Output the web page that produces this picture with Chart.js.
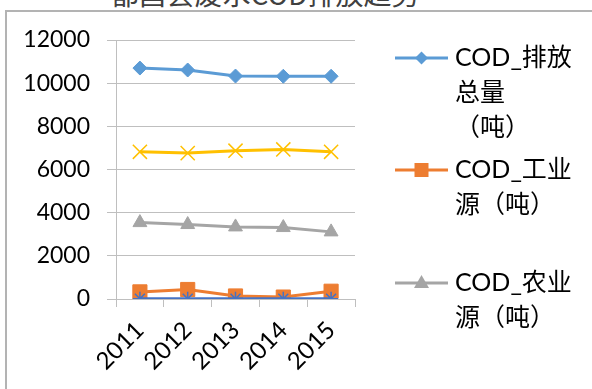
<!DOCTYPE html>
<html>
<head>
<meta charset="utf-8">
<script src="https://cdn.jsdelivr.net/npm/chart.js@4.4.1/dist/chart.umd.min.js"></script>
<style>
  html, body { margin: 0; padding: 0; background: #fff; overflow: hidden; }
  #wrap { position: relative; width: 592px; height: 389px; overflow: hidden; }
  #frame { position: absolute; left: 5px; top: 10px; width: 700px; height: 500px;
           border: 2px solid #b3b3b3; box-sizing: border-box; }
  #title { position: absolute; left: 0; top: -21px; width: 530px; text-align: center;
           font: 28px "Noto Sans CJK SC", sans-serif; line-height: 28px; color: #404040; white-space: nowrap; }
  canvas { position: absolute; left: 0; top: 0; }
</style>
</head>
<body>
<div id="wrap">
  <div id="frame"></div>
  <div id="title">都昌县废水COD排放趋势</div>
  <canvas id="chart-cod" width="592" height="389"></canvas>
</div>
<script>
// data (tonnes)
const years = ['2011', '2012', '2013', '2014', '2015'];
const totalCOD = [10700, 10610, 10330, 10320, 10320];
const industryCOD = [330, 440, 140, 90, 360];
const agricultureCOD = [3540, 3450, 3340, 3310, 3110];
const domesticCOD = [6820, 6760, 6870, 6930, 6820];
const centralCOD = [10, 10, 10, 10, 10];
const yTicks = [0, 2000, 4000, 6000, 8000, 10000, 12000];

const seriesNames = ['COD_排放总量（吨）', 'COD_工业源（吨）', 'COD_农业源（吨）', 'COD_生活源（吨）', 'COD_集中式（吨）'];
// legend text as wrapped in the picture (only the first three entries are visible)
const legendLines = [['COD_排放', '总量', '（吨）'], ['COD_工业', '源（吨）'], ['COD_农业', '源（吨）']];

const FONT = 'Lato, "Noto Sans CJK SC", sans-serif';

// legend drawn beside the plot, Excel style
const sideLegend = {
  id: 'sideLegend',
  afterDraw(chart) {
    const ctx = chart.ctx;
    const rows = [58, 170, 283];
    const lineGap = 35;
    const ds = chart.data.datasets;
    ctx.save();
    legendLines.forEach((lines, i) => {
      const y = rows[i];
      const c = ds[i].borderColor;
      ctx.strokeStyle = c;
      ctx.fillStyle = c;
      ctx.lineWidth = 3;
      ctx.beginPath();
      ctx.moveTo(395, y);
      ctx.lineTo(448, y);
      ctx.stroke();
      const mx = 421.5;
      ctx.beginPath();
      if (i === 0) {
        ctx.moveTo(mx - 6.5, y); ctx.lineTo(mx, y - 6.5); ctx.lineTo(mx + 6.5, y); ctx.lineTo(mx, y + 6.5);
      } else if (i === 1) {
        ctx.rect(mx - 7, y - 7, 14, 14);
      } else {
        ctx.moveTo(mx, y - 8); ctx.lineTo(mx + 7.5, y + 5); ctx.lineTo(mx - 7.5, y + 5);
      }
      ctx.closePath();
      ctx.fill();
      ctx.fillStyle = '#000';
      ctx.font = '25px ' + FONT;
      ctx.textBaseline = 'middle';
      ctx.textAlign = 'left';
      lines.forEach((t, j) => ctx.fillText(t, 455, y + j * lineGap));
    });
    ctx.restore();
  }
};

const ctxCod = document.getElementById('chart-cod').getContext('2d');
new Chart(ctxCod, {
  type: 'line',
  data: {
    labels: years,
    datasets: [
      { label: seriesNames[0], data: totalCOD, borderColor: '#5B9BD5', backgroundColor: '#5B9BD5',
        pointStyle: 'rectRot', pointRadius: 7, order: 5 },
      { label: seriesNames[1], data: industryCOD, borderColor: '#ED7D31', backgroundColor: '#ED7D31',
        pointStyle: 'rect', pointRadius: 10, order: 4 },
      { label: seriesNames[2], data: agricultureCOD, borderColor: '#A5A5A5', backgroundColor: '#A5A5A5',
        pointStyle: 'triangle', pointRadius: 8, order: 3 },
      { label: seriesNames[3], data: domesticCOD, borderColor: '#FFC000', backgroundColor: '#FFC000',
        pointStyle: 'crossRot', pointRadius: 10, pointBorderWidth: 1.5, order: 2 },
      { label: seriesNames[4], data: centralCOD, borderColor: '#4472C4', backgroundColor: '#4472C4',
        pointStyle: 'star', pointRadius: 7, pointBorderWidth: 1.5, order: 1 }
    ]
  },
  options: {
    responsive: false,
    animation: false,
    devicePixelRatio: 1,
    elements: {
      line: { borderWidth: 3, tension: 0 },
      point: { borderWidth: 1 }
    },
    layout: { padding: { left: 23, top: 40, right: 237, bottom: 10 } },
    plugins: {
      legend: { display: false },
      title: { display: false },
      tooltip: { enabled: false }
    },
    scales: {
      x: {
        offset: true,
        grid: { offset: true, drawOnChartArea: false, tickLength: 8, color: '#bfbfbf' },
        border: { color: '#bfbfbf' },
        ticks: { minRotation: 45, maxRotation: 45, color: '#000', padding: 9,
                 font: { family: FONT, size: 24 } },
        afterFit: s => { s.height = 80; }
      },
      y: {
        min: 0,
        max: 12000,
        afterBuildTicks: s => { s.ticks = yTicks.map(v => ({ value: v })); },
        grid: { color: '#bfbfbf', tickLength: 9 },
        border: { color: '#bfbfbf' },
        ticks: { color: '#000', padding: 17, font: { family: FONT, size: 23 },
                 callback: v => String(v) },
        afterFit: s => { s.width = 93; }
      }
    }
  },
  plugins: [sideLegend]
});
</script>
</body>
</html>
